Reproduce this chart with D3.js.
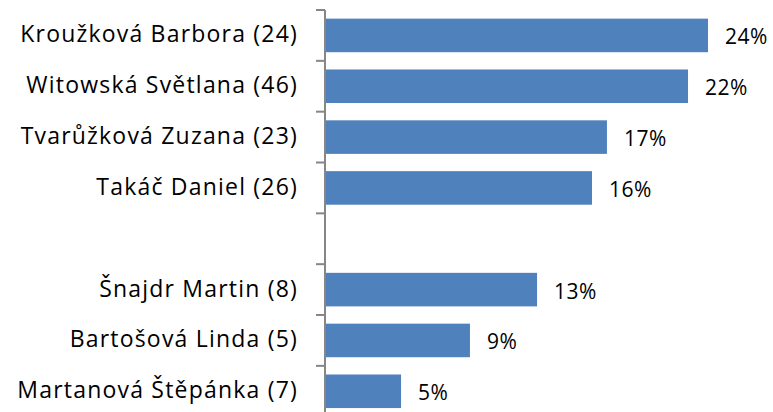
<!DOCTYPE html>
<html>
<head>
<meta charset="utf-8">
<script src="https://cdn.jsdelivr.net/npm/d3@7"></script>
<style>
  html, body { margin: 0; padding: 0; background: #fff; }
  svg { display: block; }
  text { font-family: "Open Sans", "Noto Sans", sans-serif; fill: #000; }
</style>
</head>
<body>
<svg id="chart" width="773" height="412"></svg>
<script>
// Share of the total per person; the empty slot separates the two groups.
const categories = [
  "Kroužková Barbora (24)",
  "Witowská Světlana (46)",
  "Tvarůžková Zuzana (23)",
  "Takáč Daniel (26)",
  "",
  "Šnajdr Martin (8)",
  "Bartošová Linda (5)",
  "Martanová Štěpánka (7)"
];
const values = [0.2357, 0.2234, 0.1735, 0.1643, null, 0.1305, 0.0892, 0.0468];

const svg = d3.select("#chart");
const axisX = 325;
const plotTop = 10, plotBottom = 416.7;

const y = d3.scaleBand()
  .domain(d3.range(categories.length))
  .range([plotTop, plotBottom])
  .paddingInner(0.34)
  .paddingOuter(0.17);

const x = d3.scaleLinear().domain([0, 0.24]).range([axisX, axisX + 16.25 * 24]);

const rows = categories.map((c, i) => ({ i, label: c, value: values[i] }));

// bars
svg.append("g").selectAll("rect")
  .data(rows.filter(d => d.value != null))
  .join("rect")
  .attr("x", x(0))
  .attr("y", d => y(d.i))
  .attr("width", d => x(d.value) - x(0))
  .attr("height", y.bandwidth())
  .attr("fill", "#4F81BD");

// category axis: line plus ticks at slot boundaries
const step = y.step();
const ax = svg.append("g").attr("stroke", "#868686").attr("stroke-width", 2);
ax.append("line")
  .attr("x1", axisX).attr("x2", axisX)
  .attr("y1", plotTop).attr("y2", 412);
ax.selectAll("line.tick")
  .data(d3.range(categories.length + 1))
  .join("line")
  .attr("class", "tick")
  .attr("x1", axisX - 9).attr("x2", axisX)
  .attr("y1", i => plotTop + i * step).attr("y2", i => plotTop + i * step);

// category labels
svg.append("g").selectAll("text")
  .data(rows.filter(d => d.label))
  .join("text")
  .attr("x", 298)
  .attr("y", d => y(d.i) + y.bandwidth() / 2 + 7)
  .attr("text-anchor", "end")
  .attr("font-size", 23)
  .attr("letter-spacing", 1.2)
  .text(d => d.label);

// value labels
const fmt = d3.format(".0%");
svg.append("g").selectAll("text")
  .data(rows.filter(d => d.value != null))
  .join("text")
  .attr("x", d => x(d.value) + 17)
  .attr("y", d => y(d.i) + y.bandwidth() / 2 + 9)
  .attr("font-size", 21)
  .attr("letter-spacing", 0.5)
  .text(d => fmt(d.value));
</script>
</body>
</html>
